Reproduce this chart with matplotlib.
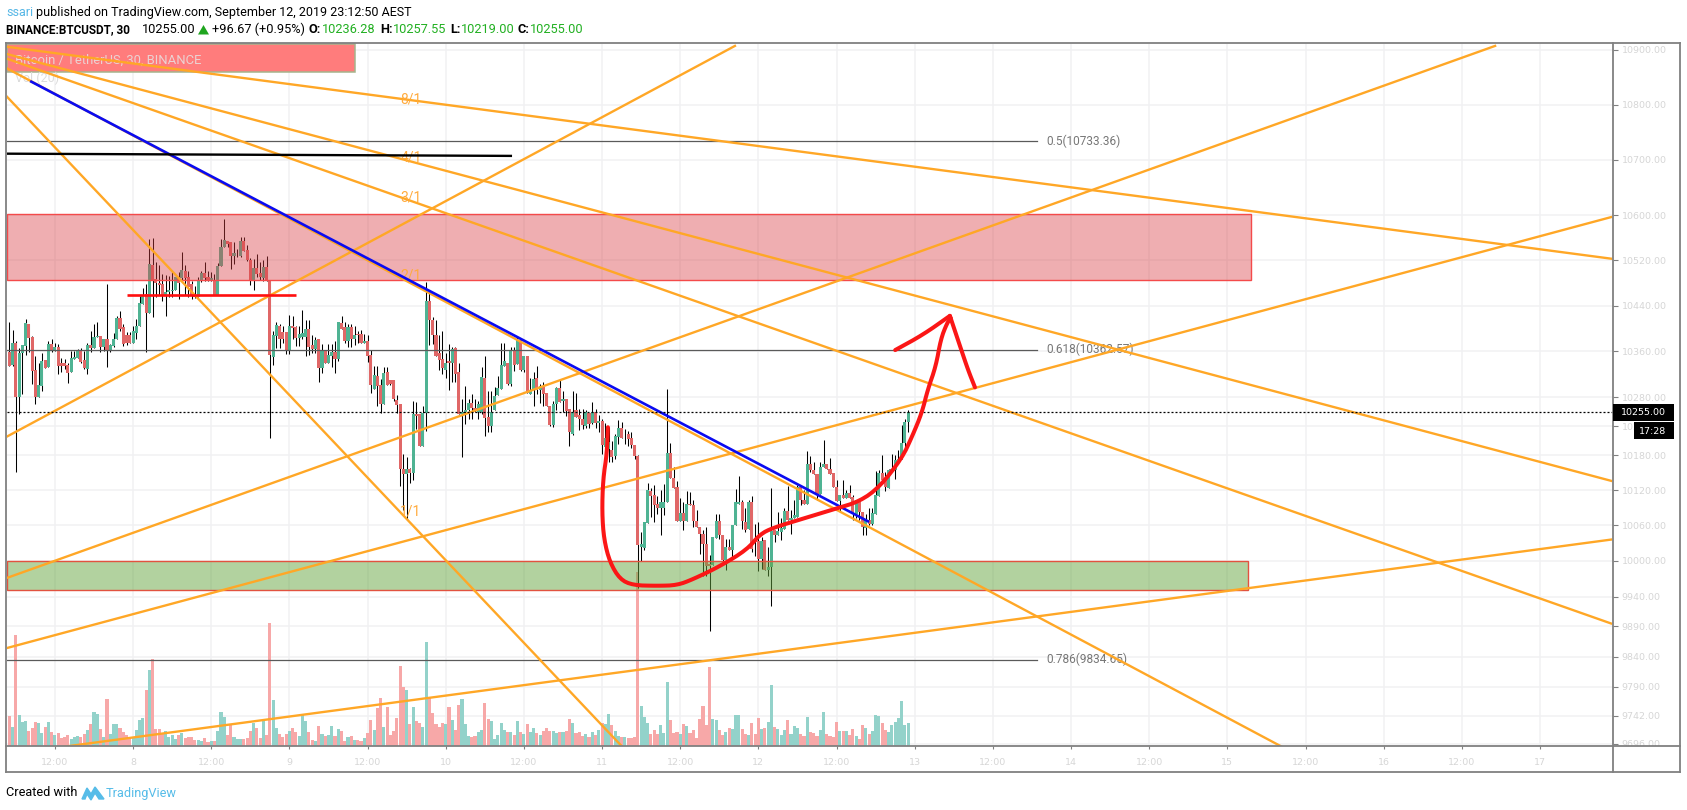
import matplotlib
matplotlib.use("Agg")
import matplotlib.pyplot as plt
from matplotlib.patches import Rectangle, Polygon
from matplotlib.lines import Line2D
from matplotlib.transforms import Bbox, TransformedBbox, IdentityTransform
from matplotlib.ticker import FixedLocator, FixedFormatter, NullLocator
import numpy as np

# ---- candles (30 min bars) ----
opens = [10358,10336,10375,10281,10357,10369,10408,10385,10327,10281,
10300,10344,10333,10372,10361,10368,10340,10340,10336,10323,
10347,10348,10362,10345,10329,10371,10366,10384,10387,10368,
10381,10360,10369,10382,10418,10402,10388,10388,10374,10392,
10404,10443,10461,10427,10512,10487,10480,10478,10458,10464,
10465,10467,10490,10488,10501,10490,10478,10457,10456,10483,
10497,10491,10485,10486,10459,10510,10543,10554,10552,10527,
10527,10528,10554,10538,10520,10483,10506,10497,10489,10508,
10484,10350,10387,10405,10394,10394,10362,10404,10402,10383,
10384,10384,10399,10371,10364,10381,10331,10361,10340,10352,
10359,10346,10410,10402,10378,10403,10381,10390,10390,10374,
10378,10353,10294,10317,10301,10268,10323,10310,10309,10275,
10268,10157,10147,10157,10149,10251,10251,10196,10252,10449,
10414,10388,10357,10346,10328,10343,10340,10365,10323,10251,
10255,10258,10270,10261,10255,10254,10313,10246,10231,10257,
10283,10294,10334,10339,10303,10362,10338,10379,10328,10351,
10286,10292,10313,10292,10297,10287,10265,10232,10268,10296,
10273,10276,10259,10216,10257,10249,10243,10230,10253,10235,
10255,10236,10239,10194,10190,10189,10178,10211,10226,10211,
10216,10209,10198,10178,10023,10022,10064,10119,10111,10097,
10090,10090,10099,10184,10141,10125,10067,10081,10067,10097,
10095,10067,10058,10046,10029,9994,9993,10039,10068,10044,
10001,10024,10019,10060,10097,10100,10065,10054,10099,10037,
10034,10003,10035,9985,9989,10053,10044,10049,10054,10085,
10070,10072,10075,10125,10104,10097,10165,10155,10148,10114,
10160,10164,10157,10149,10125,10102,10111,10107,10116,10108,
10080,10103,10082,10056,10069,10063,10080,10110,10150,10137,
10124,10152,10154,10171,10174,10201,10236.28]
closes = [10335,10374,10281,10357,10371,10410,10383,10326,10281,10301,
10343,10331,10372,10360,10367,10335,10335,10335,10322,10348,
10350,10362,10341,10331,10371,10366,10385,10387,10368,10382,
10361,10371,10382,10418,10399,10372,10374,10374,10395,10405,
10445,10457,10427,10514,10486,10480,10477,10458,10464,10467,
10468,10491,10480,10503,10488,10473,10459,10456,10485,10498,
10488,10485,10489,10459,10510,10544,10556,10549,10527,10533,
10528,10554,10537,10520,10484,10506,10496,10490,10508,10484,
10353,10388,10406,10381,10382,10362,10404,10401,10383,10391,
10392,10399,10367,10364,10380,10331,10361,10340,10354,10359,
10346,10411,10399,10378,10403,10381,10389,10388,10374,10377,
10352,10301,10318,10300,10268,10322,10302,10303,10276,10267,
10157,10147,10157,10150,10251,10248,10196,10253,10448,10414,
10388,10352,10345,10331,10340,10340,10364,10321,10251,10255,
10258,10270,10261,10257,10268,10315,10244,10230,10255,10282,
10296,10336,10343,10303,10361,10336,10379,10328,10351,10288,
10292,10312,10292,10299,10286,10265,10232,10268,10296,10272,
10276,10256,10220,10255,10246,10242,10232,10254,10234,10254,
10235,10239,10198,10209,10202,10176,10213,10226,10210,10212,
10208,10198,10178,10027,10028,10065,10121,10110,10095,10090,
10099,10100,10184,10141,10124,10067,10081,10067,10097,10094,
10067,10057,10045,10028,9992,9992,10040,10068,10043,10001,
10023,10019,10061,10099,10099,10068,10053,10099,10020,10032,
10003,10034,9984,9990,10050,10043,10050,10056,10085,10069,
10073,10077,10125,10103,10097,10165,10154,10147,10114,10160,
10164,10156,10148,10125,10102,10112,10107,10116,10107,10080,
10103,10083,10057,10069,10062,10081,10112,10150,10137,10125,
10154,10156,10172,10174,10200,10237,10255]
highs = [10411,10398,10378,10365,10371,10417,10408,10387,10351,10340,
10357,10344,10378,10382,10375,10372,10349,10346,10340,10361,
10361,10364,10365,10361,10374,10396,10408,10411,10387,10382,
10478,10372,10392,10422,10431,10408,10394,10394,10404,10417,
10457,10471,10478,10558,10560,10517,10512,10496,10494,10493,
10499,10491,10499,10534,10512,10502,10484,10475,10490,10502,
10517,10502,10499,10496,10516,10558,10593,10555,10552,10552,
10541,10561,10561,10547,10524,10523,10531,10517,10520,10527,
10484,10396,10412,10408,10404,10394,10424,10422,10404,10405,
10432,10414,10414,10388,10384,10381,10372,10361,10372,10372,
10378,10411,10421,10411,10408,10408,10405,10396,10398,10390,
10388,10362,10335,10335,10312,10332,10332,10310,10310,10283,
10268,10182,10176,10158,10274,10271,10251,10265,10481,10467,
10420,10414,10388,10395,10357,10372,10367,10367,10339,10277,
10300,10277,10286,10277,10274,10332,10351,10291,10290,10297,
10317,10374,10374,10339,10367,10367,10387,10381,10351,10351,
10314,10323,10334,10303,10306,10287,10265,10274,10297,10309,
10291,10276,10259,10291,10288,10259,10259,10258,10253,10272,
10259,10250,10243,10236,10228,10205,10216,10240,10237,10225,
10222,10219,10198,10181,10049,10065,10133,10123,10128,10110,
10120,10131,10294,10201,10160,10135,10106,10100,10118,10117,
10103,10086,10058,10052,10057,10010,10040,10080,10080,10044,
10037,10037,10061,10122,10144,10103,10089,10103,10110,10062,
10065,10040,10035,10023,10123,10053,10082,10072,10089,10127,
10086,10103,10128,10125,10120,10187,10178,10168,10148,10169,
10206,10164,10175,10149,10137,10112,10137,10120,10128,10111,
10103,10104,10082,10080,10090,10090,10152,10154,10181,10151,
10157,10182,10181,10188,10232,10242,10257.55]
lows = [10335,10335,10151,10251,10286,10354,10358,10303,10268,10281,
10291,10331,10333,10358,10361,10320,10323,10329,10304,10323,
10346,10348,10339,10329,10321,10358,10366,10384,10359,10361,
10333,10359,10368,10381,10396,10369,10371,10374,10374,10381,
10404,10443,10358,10427,10420,10455,10458,10449,10422,10455,
10455,10467,10452,10481,10458,10455,10452,10453,10456,10481,
10484,10483,10484,10459,10459,10510,10543,10543,10505,10514,
10526,10526,10536,10518,10477,10468,10490,10485,10484,10484,
10210,10336,10365,10365,10375,10355,10355,10381,10369,10369,
10381,10352,10354,10357,10357,10307,10322,10340,10340,10333,
10322,10343,10399,10375,10367,10368,10371,10374,10374,10374,
10342,10288,10294,10264,10252,10268,10301,10301,10274,10252,
10127,10086,10069,10132,10138,10225,10196,10196,10222,10371,
10372,10352,10328,10320,10313,10293,10306,10306,10251,10177,
10234,10242,10242,10255,10242,10251,10213,10219,10219,10257,
10283,10294,10334,10301,10300,10326,10338,10326,10323,10287,
10286,10264,10286,10270,10265,10264,10231,10228,10258,10271,
10255,10248,10196,10214,10246,10224,10225,10226,10226,10233,
10226,10219,10182,10178,10168,10168,10174,10199,10209,10199,
10196,10192,10174,9955,9999,10018,10064,10074,10066,10080,
10043,10078,10099,10140,10124,10067,10067,10052,10067,10094,
10057,10057,10012,9975,9975,9883,9993,10039,10037,9998,
9985,10018,10003,10060,10097,10054,10049,10054,10015,10009,
9983,9986,9984,9975,9924,10032,10043,10035,10054,10069,
10046,10072,10075,10094,10097,10097,10151,10147,10104,10114,
10160,10156,10148,10125,10102,10084,10106,10106,10106,10069,
10072,10069,10043,10043,10060,10060,10080,10110,10137,10118,
10124,10152,10139,10165,10174,10190,10219]
volumes = [90,57,333,93,72,75,45,54,72,69,
39,57,72,42,33,39,24,27,33,21,
27,30,27,36,48,66,102,96,51,27,
141,36,66,66,54,42,33,24,27,48,
78,84,168,228,261,51,51,36,45,27,
33,21,33,39,24,27,27,18,18,15,
24,12,15,15,45,102,87,33,66,27,
21,21,21,24,45,69,54,24,78,33,
369,138,54,36,27,36,45,54,42,30,
93,75,42,18,15,60,36,30,33,60,
30,51,45,15,27,30,18,18,15,24,
39,78,48,114,144,57,117,33,45,84,
240,177,168,66,117,75,69,57,312,147,
99,66,57,69,66,117,78,48,123,141,
66,30,27,30,42,48,129,81,75,21,
33,69,48,42,42,33,75,42,36,66,
42,54,39,33,45,54,45,45,39,42,
42,45,81,69,39,42,30,36,27,42,
33,48,69,66,96,63,45,30,27,27,
24,24,27,522,120,87,69,36,48,36,
63,39,192,78,39,42,36,66,60,39,
48,24,81,120,63,237,81,78,48,33,
42,54,51,93,93,51,36,33,69,36,
84,51,54,72,183,57,51,33,48,78,
36,60,54,36,30,87,42,39,30,48,
102,36,30,27,72,45,45,45,33,51,
30,21,63,54,36,45,93,90,69,48,
42,63,72,84,135,63,69]

# ---- axes labels ----
price_ticks = [10900,10800,10700,10600,10520,10440,10360,10280,10230,10180,
               10120,10060,10000,9940,9890,9840,9790,9742,9696]
time_ticks = [14,38,62,86,110,134,158,182,206,230,254,278,302,326,350,374,398,422,446,470]
time_labels = ["12:00","8","12:00","9","12:00","10","12:00","11","12:00","12",
               "12:00","13","12:00","14","12:00","15","12:00","16","12:00","17"]

# ---- drawings: (bar number, price) ----
fan_down_start = (-17.3, 10919)
fan_down_ends = [(491.8,10523),(491.8,10136),(491.8,9895),(390.5,9692),(188.1,9692)]
fan_up_start = (-243, 9508)
fan_up_ends = [(222.8,10907.5),(456.2,10907.5),(491.8,10597),(491.8,10036)]
fan_texts = ["8/1","4/1","3/1","2/1","1/1"]
fan_text_prices = [10810,10705,10633,10494,10083]
blue_bars, blue_prices = [6.4,264], [10843,10066]
black_bars, black_prices = [-0.5,154], [10711,10707]
red_level_bars, red_level_price = [36,87.9], 10458
fib_levels = [0.5,0.618,0.786]
fib_prices = [10733.36,10362.57,9834.65]
pink_zone = (10485.5,10602)
green_zone = (9951,9999.6)
curve_bars = [183.8,183.5,182.3,182,182.6,184.4,187.5,191.5,198.9,205,209.9,218.2,226.5,230.5,
              234.5,242.8,252.9,261.2,267.3,274.1,277.2,280.2,282,284.5,286,287.9,289.1]
curve_prices = [10228,10184,10138,10082,10036,9997.5,9969,9959,9958,9959,9969,9991,10019,10045,
                10056,10070,10087,10101,10126,10175,10212,10253,10293,10334,10381,10409,10418]
arrow_bars, arrow_prices = [272,280.6,288.8], [10362,10389,10422]
stroke_bars, stroke_prices = [288.8,292.2,294.4,296.5], [10422,10364,10327,10297]
last_price = 10255.00

W, H = 1687, 810
fig = plt.figure(figsize=(W/100, H/100), dpi=100, facecolor="white")
plt.rcParams["font.family"] = ["Roboto", "DejaVu Sans"]
def fx(p): return p/W
def fy(p): return 1-p/H
rect = [fx(7), fy(746), fx(1613)-fx(7), fy(44)-fy(746)]
xlim = (-0.706, 492.4)
ylim = (9692.6, 10911)

ax_grid = fig.add_axes(rect, zorder=1)
ax_vol = fig.add_axes(rect, zorder=2)
ax = fig.add_axes(rect, zorder=3)
ax_vol.patch.set_visible(False); ax.patch.set_visible(False)

for a in (ax_grid, ax):
    a.set_yscale("log")
    a.set_xlim(xlim); a.set_ylim(ylim)
    a.yaxis.set_major_locator(FixedLocator(price_ticks))
    a.yaxis.set_minor_locator(NullLocator())
    a.xaxis.set_major_locator(FixedLocator(time_ticks))
ax_grid.tick_params(left=False,bottom=False,labelleft=False,labelbottom=False)
ax_grid.grid(True,color="#f1f1f3",lw=1.1)
ax_grid.set_axisbelow(True)
for s in ax_grid.spines.values(): s.set_visible(False)

# volume
idx = np.arange(len(opens))
op, cl, hi, lo = map(np.array,(opens,closes,highs,lows))
up = cl >= op
ax_vol.set_xlim(xlim); ax_vol.set_ylim(0,2106); ax_vol.axis("off")
ax_vol.bar(idx, volumes, width=0.95, color=np.where(up,"#93d2ca","#f7a8a8"), linewidth=0, antialiased=False)

# candles
ax.vlines(idx, lo, hi, color="black", lw=0.75, zorder=2)
tops = np.maximum(op,cl); bots = np.minimum(op,cl)
ax.bar(idx, np.maximum(tops-bots,1.0), bottom=bots, width=0.95,
       color=np.where(up,"#4fb393","#e06767"), linewidth=0, zorder=3, antialiased=False)

# zones
ax.add_patch(Rectangle((xlim[0],pink_zone[0]),381.2-xlim[0],pink_zone[1]-pink_zone[0],
    facecolor=(0.85,0.25,0.27,0.42),edgecolor="#f44a4a",lw=1,zorder=4))
ax.add_patch(Rectangle((xlim[0],green_zone[0]),380.3-xlim[0],green_zone[1]-green_zone[0],
    facecolor=(0.40,0.65,0.25,0.50),edgecolor="#e2523f",lw=1,zorder=4))

# fib
for lv,pr in zip(fib_levels,fib_prices):
    ax.plot([xlim[0],315.5],[pr,pr],color="#5a5a5a",lw=0.9,zorder=5)
    ax.text(318.3,pr,f"{lv}({pr})",color="#777777",fontsize=8.6,va="center",ha="left",zorder=6)

# fans
orange="#ffa726"
for e in fan_down_ends:
    ax.plot([fan_down_start[0],e[0]],[fan_down_start[1],e[1]],color=orange,lw=1.7,zorder=7)
for e in fan_up_ends:
    ax.plot([fan_up_start[0],e[0]],[fan_up_start[1],e[1]],color=orange,lw=1.7,zorder=7)
for t,p in zip(fan_texts,fan_text_prices):
    ax.text(123.3,p,t,color="#ffab3d",fontsize=10,ha="center",va="center",zorder=7)

ax.plot(blue_bars,blue_prices,color="#0b0bf0",lw=1.9,zorder=8,solid_capstyle="butt")
ax.plot(black_bars,black_prices,color="black",lw=1.7,zorder=8)
ax.plot(red_level_bars,[red_level_price]*2,color="#ff0f0f",lw=1.9,zorder=8,solid_capstyle="butt")
ax.axhline(last_price,color="black",lw=0.9,ls=(0,(1.6,1.6)),zorder=8)

def chaikin(xs, ys, n=2):
    # rounds the corners of the hand-drawn stroke, keeping its end points
    p = np.column_stack((xs, np.log(ys)))
    for _ in range(n):
        q = np.empty((2*len(p)-2, 2))
        q[0::2] = 0.75*p[:-1] + 0.25*p[1:]
        q[1::2] = 0.25*p[:-1] + 0.75*p[1:]
        p = np.vstack((p[0], q, p[-1]))
    return p[:,0], np.exp(p[:,1])

for xs,ys in ((curve_bars,curve_prices),(arrow_bars,arrow_prices),(stroke_bars,stroke_prices)):
    sx, sy = chaikin(xs, ys)
    ax.plot(sx,sy,color="#fb1616",lw=2.9,zorder=9,solid_joinstyle="round",solid_capstyle="round")

# ticks / labels
for s in ax.spines.values(): s.set_visible(False)
ax.yaxis.tick_right()
ax.yaxis.set_major_formatter(FixedFormatter([f"{p:.2f}" for p in price_ticks]))
ax.xaxis.set_major_formatter(FixedFormatter(time_labels))
ax.tick_params(axis="y",right=True,length=3.6,width=0.8,color="#808080",pad=2.5,
               labelsize=6.8,labelcolor="#d6d6d6",labelfontfamily="DejaVu Sans")
ax.tick_params(axis="x",length=2.5,width=0.8,color="#808080",pad=6,
               labelsize=6.8,labelcolor="#d6d6d6",labelfontfamily="DejaVu Sans")
clip = Bbox.from_extents(1613,H-746,W,H-44)
fig.canvas.draw()
for t in ax.yaxis.get_majorticklabels():
    t.set_clip_on(True); t.set_clip_box(TransformedBbox(clip,IdentityTransform()))

# frame
grey="#808080"
fr = dict(color=grey,lw=1.3,transform=fig.transFigure,zorder=20)
for xs,ys in (([6,1680],[43,43]),([6,1680],[772,772]),([6,6],[43,772]),([1680,1680],[43,772]),
              ([1613,1613],[43,772]),([6,1680],[746,746])):
    fig.add_artist(Line2D([fx(v) for v in xs],[fy(v) for v in ys],**fr))

# title box
fig.add_artist(Rectangle((fx(7),fy(72)),fx(355)-fx(7),fy(44)-fy(72),transform=fig.transFigure,
    facecolor="#ff7c7c",edgecolor="#a6b48c",lw=1.1,zorder=2.5))
fig.text(fx(15),fy(60),"Bitcoin / TetherUS, 30, BINANCE",color="#ebd2d2",fontsize=9.4,va="center",zorder=2.6)
fig.text(fx(15),fy(78),"Vol (20)",color="#dcdcdc",fontsize=9,va="center",zorder=2.6)

# price tags
fig.add_artist(Rectangle((fx(1613),fy(421)),fx(1674)-fx(1613),fy(404)-fy(421),transform=fig.transFigure,
    facecolor="black",edgecolor="none",zorder=21))
fig.add_artist(Rectangle((fx(1634),fy(439)),fx(1674)-fx(1634),fy(422)-fy(439),transform=fig.transFigure,
    facecolor="black",edgecolor="none",zorder=21))
fig.text(fx(1621),fy(412.5),f"{last_price:.2f}",color="white",fontsize=6.8,family="DejaVu Sans",va="center",zorder=22)
fig.text(fx(1638.5),fy(431),"17:28",color="white",fontsize=6.8,family="DejaVu Sans",va="center",zorder=22)

# header
def T(x,y,s,c="black",w="normal",fs=9.2):
    fig.text(fx(x),fy(y),s,color=c,fontweight=w,fontsize=fs,va="center",ha="left")
T(6,12.5,"ssari","#56b7e6",fs=9)
T(36,12.5,"published on TradingView.com, September 12, 2019 23:12:50 AEST",fs=9)
T(6.5,29.5,"BINANCE:BTCUSDT, 30",w="bold",fs=8.5)
T(142,29.5,"10255.00")
fig.add_artist(Polygon([[fx(198),fy(34.5)],[fx(209),fy(34.5)],[fx(203.5),fy(25)]],closed=True,
                       transform=fig.transFigure,facecolor="#1fa51f",edgecolor="none"))
T(212,29.5,"+96.67 (+0.95%)")
g="#22b022"
for x1,lab,x2,val in ((308.5,"O:",322,"10236.28"),(380,"H:",393.4,"10257.55"),
                      (450,"L:",461,"10219.00"),(518,"C:",530,"10255.00")):
    T(x1,29.5,lab,w="bold"); T(x2,29.5,val,g)

# footer
T(6,793,"Created with")
logo=[[82,799],[87,788],[91,794],[95,787],[104,799],[99,799],[95,793],[91,800],[87,794],[85,799]]
fig.add_artist(Polygon([[fx(a),fy(b)] for a,b in logo],closed=True,transform=fig.transFigure,
                       facecolor="#56bce8",edgecolor="#56bce8",lw=1))
T(106,793,"TradingView","#56bce8")

fig.savefig("out.png",dpi=100)
